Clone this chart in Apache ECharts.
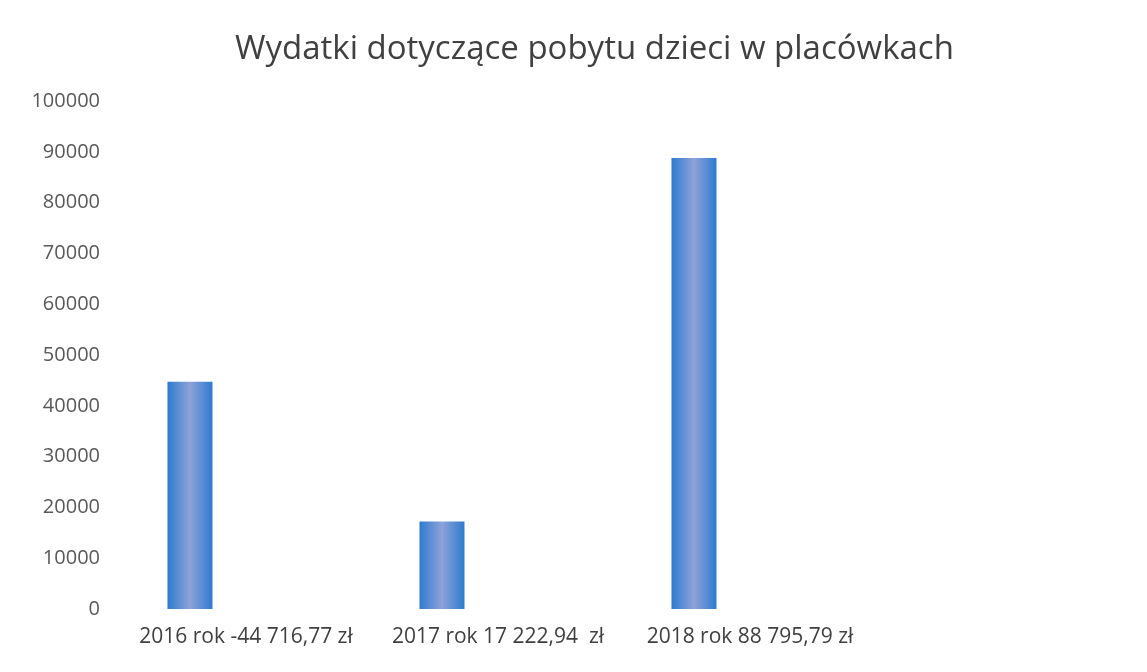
<!DOCTYPE html>
<html>
<head>
<meta charset="utf-8">
<script src="https://cdn.jsdelivr.net/npm/echarts@6/dist/echarts.min.js"></script>
<style>
	html, body { margin: 0; padding: 0; background: #fff; }
	#chart { width: 1147px; height: 672px; }
</style>
</head>
<body>
<div id="chart"></div>
<script>
// dane
const categories = ["2016 rok -44 716,77 zł", "2017 rok 17 222,94  zł", "2018 rok 88 795,79 zł"];
const wydatki = [44716.77, 17222.94, 88795.79];
const pusta = []; // druga seria (pusta) jak w oryginale, przesuwa słupki w lewo

const chart = echarts.init(document.getElementById("chart"));
const barColor = new echarts.graphic.LinearGradient(0, 0, 1, 0, [
	{ offset: 0, color: "#2e7bd0" },
	{ offset: 0.5, color: "#8ea2d8" },
	{ offset: 1, color: "#2e7bd0" },
]);
chart.setOption({
	animation: false,
	title: {
		text: "Wydatki dotyczące pobytu dzieci w placówkach",
		left: 230,
		top: 28,
		textStyle: {
			fontFamily: "Open Sans",
			fontSize: 33,
			fontWeight: "normal",
			color: "#404040",
		},
	},
	grid: {
		left: 120,
		right: 271,
		top: 101,
		bottom: 63,
	},
	xAxis: {
		type: "category",
		data: categories,
		axisLine: { show: false },
		axisTick: { show: false },
		axisLabel: {
			interval: 0,
			hideOverlap: false,
			margin: 18,
			fontFamily: "Open Sans",
			fontSize: 21,
			color: "#404040",
		},
	},
	yAxis: {
		type: "value",
		min: 0,
		max: 100000,
		interval: 10000,
		axisLine: { show: false },
		axisTick: { show: false },
		splitLine: { show: false },
		axisLabel: {
			margin: 20,
			fontFamily: "Open Sans",
			fontSize: 20,
			color: "#595959",
			formatter: (v) => String(v),
		},
	},
	series: [
		{
			type: "bar",
			data: wydatki,
			barWidth: 45,
			barGap: "149%",
			itemStyle: { color: barColor },
		},
		{
			type: "bar",
			data: pusta,
			barWidth: 45,
		},
	],
});
</script>
</body>
</html>
